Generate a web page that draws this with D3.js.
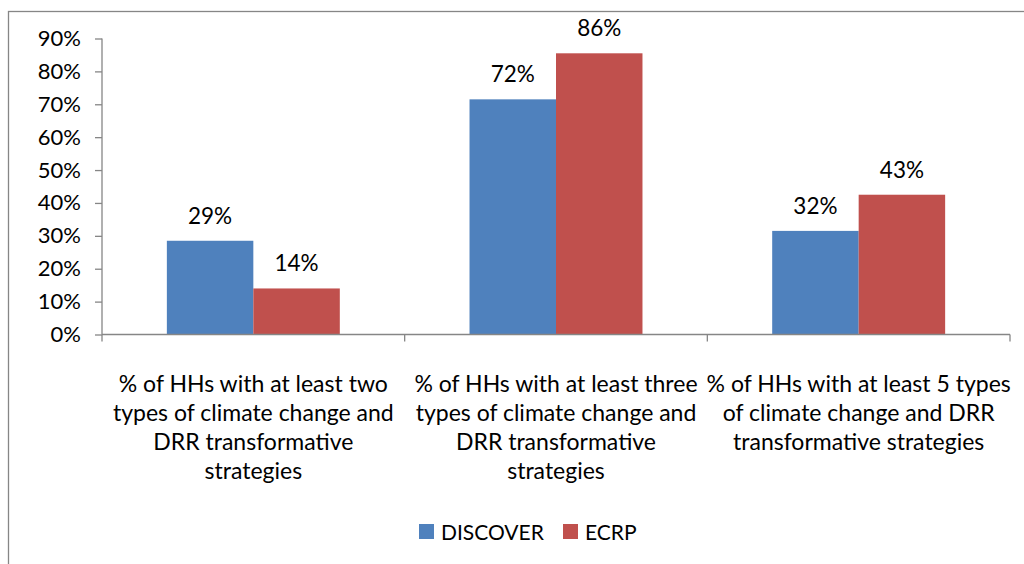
<!DOCTYPE html>
<html>
<head>
<meta charset="utf-8">
<script src="https://cdn.jsdelivr.net/npm/d3@7"></script>
<style>
  html, body { margin: 0; padding: 0; background: #fff; }
  svg { display: block; }
  text { font-family: Lato, "Liberation Sans", sans-serif; fill: #000; }
</style>
</head>
<body>
<svg id="chart" width="1024" height="564"></svg>
<script>
const categories = [
  "% of HHs with at least two types of climate change and DRR transformative strategies",
  "% of HHs with at least three types of climate change and DRR transformative strategies",
  "% of HHs with at least 5 types of climate change and DRR transformative strategies"
];
const categoryLines = [
  ["% of HHs with at least two", "types of climate change and", "DRR transformative", "strategies"],
  ["% of HHs with at least three", "types of climate change and", "DRR transformative", "strategies"],
  ["% of HHs with at least 5 types", "of climate change and DRR", "transformative strategies"]
];
const seriesNames = ["DISCOVER", "ECRP"];
const discoverValues = [0.285, 0.715, 0.315];
const ecrpValues = [0.14, 0.855, 0.425];
const discoverLabels = ["29%", "72%", "32%"];
const ecrpLabels = ["14%", "86%", "43%"];
const yTicks = [0, 0.1, 0.2, 0.3, 0.4, 0.5, 0.6, 0.7, 0.8, 0.9];
const colors = ["#4F81BD", "#C0504D"];

const svg = d3.select("#chart");
const axisColor = "#868686";

// outer frame (extends past the right and bottom edges)
svg.append("rect")
  .attr("x", 8.5).attr("y", 11.5)
  .attr("width", 1040).attr("height", 600)
  .attr("fill", "none").attr("stroke", axisColor).attr("stroke-width", 1.3);

const x0 = 102, x1 = 1010, yBottom = 334.5, yTop = 38.5;
const x = d3.scaleBand().domain(categories).range([x0, x1]).paddingInner(0).paddingOuter(0);
const xs = d3.scaleBand().domain(seriesNames).range([0, x.bandwidth()]).paddingInner(0).paddingOuter(0.75);
const y = d3.scaleLinear().domain([0, 0.9]).range([yBottom, yTop]);

const rows = categories.map((c, i) => ({
  cat: c,
  vals: [
    { s: seriesNames[0], v: discoverValues[i], label: discoverLabels[i] },
    { s: seriesNames[1], v: ecrpValues[i], label: ecrpLabels[i] }
  ]
}));

// bars
const groups = svg.append("g").selectAll("g").data(rows).join("g")
  .attr("transform", d => `translate(${x(d.cat)},0)`);
groups.selectAll("rect").data(d => d.vals).join("rect")
  .attr("x", d => xs(d.s))
  .attr("y", d => y(d.v))
  .attr("width", xs.bandwidth())
  .attr("height", d => y(0) - y(d.v))
  .attr("fill", (d, i) => colors[i]);
groups.selectAll("text.lbl").data(d => d.vals).join("text")
  .attr("class", "lbl")
  .attr("x", d => xs(d.s) + xs.bandwidth() / 2)
  .attr("y", d => y(d.v) - 17)
  .attr("text-anchor", "middle")
  .style("font-size", "22.5px")
  .text(d => d.label);

// y axis
const yAxis = svg.append("g").attr("transform", `translate(${x0},0)`)
  .call(d3.axisLeft(y).tickValues(yTicks).tickFormat(d3.format(".0%")).tickSize(7).tickPadding(14));
yAxis.select(".domain").attr("stroke", axisColor).attr("stroke-width", 1.3).attr("d", `M0,${yTop}V${yBottom}`);
yAxis.selectAll(".tick line").attr("stroke", axisColor).attr("stroke-width", 1.3);
yAxis.selectAll(".tick text").style("font-size", "22px").style("font-family", "Lato, sans-serif").attr("fill", "#000");

// x axis
const xAxis = svg.append("g").attr("transform", `translate(0,${yBottom})`)
  .call(d3.axisBottom(x).tickFormat("").tickSize(0));
xAxis.select(".domain").attr("stroke", axisColor).attr("stroke-width", 1.3).attr("d", `M${x0},0H${x1}`);
xAxis.selectAll(".tick").remove();
const bounds = [x0].concat(categories.map(c => x(c) + x.bandwidth()));
xAxis.selectAll("line.sep").data(bounds).join("line")
  .attr("class", "sep")
  .attr("x1", d => d).attr("x2", d => d)
  .attr("y1", 0).attr("y2", 7)
  .attr("stroke", axisColor).attr("stroke-width", 1.3);

// category labels
const catG = svg.append("g").selectAll("text").data(categories).join("text")
  .attr("x", d => x(d) + x.bandwidth() / 2)
  .attr("y", 392)
  .attr("text-anchor", "middle")
  .style("font-size", "23px");
catG.each(function(d, i) {
  d3.select(this).selectAll("tspan").data(categoryLines[i]).join("tspan")
    .attr("x", x(d) + x.bandwidth() / 2)
    .attr("dy", (l, j) => j === 0 ? 0 : 29)
    .text(l => l);
});

// legend
const legendX = [419, 563];
const leg = svg.append("g").selectAll("g").data(seriesNames).join("g")
  .attr("transform", (d, i) => `translate(${legendX[i]},524)`);
leg.append("rect").attr("width", 15).attr("height", 15).attr("fill", (d, i) => colors[i]);
leg.append("text").attr("x", 22).attr("y", 15.5).style("font-size", "21px").text(d => d);
</script>
</body>
</html>
